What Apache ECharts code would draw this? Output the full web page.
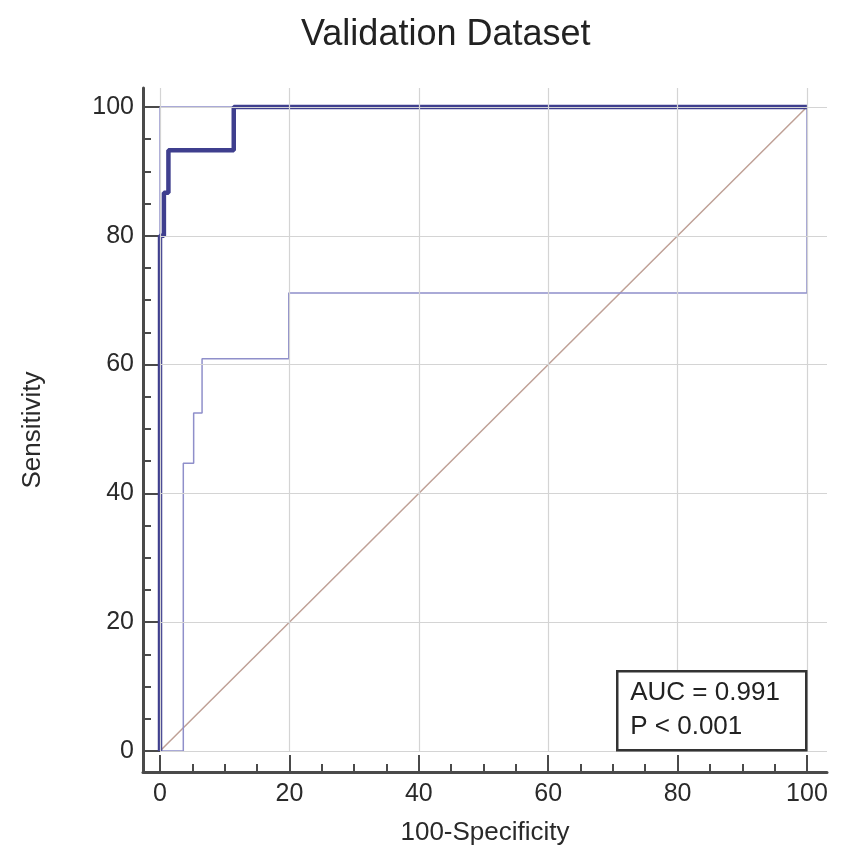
<!DOCTYPE html>
<html><head><meta charset="utf-8">
<script src="https://cdn.jsdelivr.net/npm/echarts@6/dist/echarts.min.js"></script>
<style>html,body{margin:0;padding:0;background:#fff}#c{width:845px;height:865px}</style>
</head><body><div id="c"></div>
<script>
const titleText = 'Validation Dataset';
const xName = '100-Specificity';
const yName = 'Sensitivity';
const majorTicks = [0, 20, 40, 60, 80, 100];
const minorTicks = [5, 10, 15, 25, 30, 35, 45, 50, 55, 65, 70, 75, 85, 90, 95];
const rocX = [0, 0, 0.6, 0.6, 1.3, 1.3, 11.4, 11.4, 100];
const rocY = [0, 80, 80, 86.7, 86.7, 93.3, 93.3, 100, 100];
const upperX = [0, 0, 100];
const upperY = [0, 100, 100];
const lowerX = [0, 3.6, 3.6, 5.2, 5.2, 6.5, 6.5, 19.9, 19.9, 100, 100];
const lowerY = [0, 0, 44.7, 44.7, 52.5, 52.5, 60.9, 60.9, 71.1, 71.1, 100];
const diagX = [0, 100];
const diagY = [0, 100];
const aucText = 'AUC = 0.991';
const pText = 'P < 0.001';

const FONT = '"Liberation Sans", Arial, sans-serif';
const xMin = -2.63, xMax = 103.1, yMin = -3.26, yMax = 102.95;
const zip = (xs, ys) => xs.map((x, i) => [x, ys[i]]);
const axisColor = '#4a4a4a';
const gridColor = '#d4d4d4';

const gridLines = [];
majorTicks.forEach(v => {
  gridLines.push([{ coord: [v, 0] }, { coord: [v, yMax] }]);
  gridLines.push([{ coord: [0, v] }, { coord: [xMax, v] }]);
});

function xAxisPair() {
  return [
    {
      type: 'value', min: xMin, max: xMax, position: 'bottom',
      axisLine: { onZero: false, lineStyle: { color: axisColor, width: 3 } },
      axisTick: { customValues: majorTicks, inside: true, length: 17, lineStyle: { color: axisColor, width: 2 } },
      axisLabel: { customValues: majorTicks, fontSize: 25, color: '#2a2a2a', margin: 10, fontFamily: FONT },
      splitLine: { show: false },
      name: xName, nameLocation: 'middle', nameGap: 48,
      nameTextStyle: { fontSize: 26, color: '#2a2a2a', fontFamily: FONT }
    },
    {
      type: 'value', min: xMin, max: xMax, position: 'bottom',
      axisLine: { show: false, onZero: false },
      axisTick: { customValues: minorTicks, inside: true, length: 8, lineStyle: { color: axisColor, width: 2 } },
      axisLabel: { show: false },
      splitLine: { show: false }
    }
  ];
}
function yAxisPair() {
  return [
    {
      type: 'value', min: yMin, max: yMax, position: 'left',
      axisLine: { show: true, onZero: false, lineStyle: { color: axisColor, width: 3 } },
      axisTick: { show: true, customValues: majorTicks, inside: true, length: 17, lineStyle: { color: axisColor, width: 2 } },
      axisLabel: { customValues: majorTicks, fontSize: 25, color: '#2a2a2a', margin: 9, fontFamily: FONT },
      splitLine: { show: false },
      name: yName, nameLocation: 'middle', nameGap: 97, nameRotate: 90,
      nameTextStyle: { fontSize: 26, color: '#2a2a2a', fontFamily: FONT }
    },
    {
      type: 'value', min: yMin, max: yMax, position: 'left',
      axisLine: { show: false, onZero: false },
      axisTick: { show: true, customValues: minorTicks, inside: true, length: 8, lineStyle: { color: axisColor, width: 2 } },
      axisLabel: { show: false },
      splitLine: { show: false }
    }
  ];
}

const chart = echarts.init(document.getElementById('c'), null, { renderer: 'canvas' });
chart.setOption({
  animation: false,
  backgroundColor: '#fff',
  title: {
    text: titleText, left: 296, top: 12,
    textStyle: { fontSize: 36, fontWeight: 'normal', color: '#222', fontFamily: FONT }
  },
  grid: { left: 143, right: 18, top: 88, bottom: 93, containLabel: false },
  xAxis: xAxisPair(),
  yAxis: yAxisPair(),
  graphic: [{
    type: 'group', left: 616, top: 670, z: 100,
    children: [
      { type: 'rect', z: 100, shape: { x: 0, y: 0, width: 189, height: 79 }, style: { fill: '#fff', stroke: '#333', lineWidth: 2.5 } },
      { type: 'text', z: 101, x: 13, y: 9, style: { text: aucText, fontSize: 26, fill: '#222', fontFamily: FONT } },
      { type: 'text', z: 101, x: 13, y: 43, style: { text: pText, fontSize: 26, fill: '#222', fontFamily: FONT } }
    ]
  }],
  series: [
    {
      type: 'line', name: 'grid', data: [], silent: true,
      markLine: { silent: true, symbol: 'none', label: { show: false }, lineStyle: { color: gridColor, width: 1.2, type: 'solid' }, data: gridLines },
      z: 1
    },
    {
      type: 'line', name: 'reference', data: zip(diagX, diagY), showSymbol: false, silent: true,
      lineStyle: { color: '#bfa096', width: 1.5 }, z: 2
    },
    {
      type: 'line', name: 'upper', data: zip(upperX, upperY), showSymbol: false, silent: true,
      lineStyle: { color: '#8f8fca', width: 1.5 }, z: 3
    },
    {
      type: 'line', name: 'lower', data: zip(lowerX, lowerY), showSymbol: false, silent: true,
      lineStyle: { color: '#8f8fca', width: 1.5 }, z: 3
    },
    {
      type: 'line', name: 'ROC', data: zip(rocX, rocY), showSymbol: false, silent: true,
      lineStyle: { color: '#3f3f8e', width: 4.5 }, z: 4
    }
  ]
});
</script></body></html>
